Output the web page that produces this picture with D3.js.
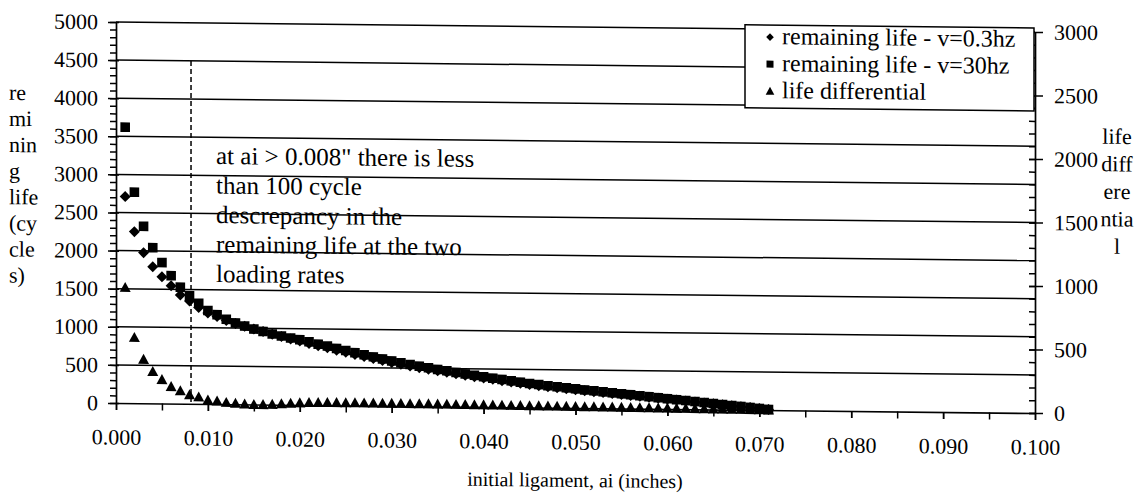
<!DOCTYPE html>
<html>
<head>
<meta charset="utf-8">
<script src="https://cdn.jsdelivr.net/npm/d3@7"></script>
<style>
  body { margin: 0; background: #fff; }
  svg text { font-family: "Liberation Serif", "DejaVu Serif", "Times New Roman", Times, serif; }
</style>
</head>
<body>
<svg id="chart" width="1141" height="499"></svg>
<script>
// initial ligament ai (inches)
const ai = [
  0.001, 0.002, 0.003, 0.004, 0.005, 0.006, 0.007, 0.008, 0.009, 0.010,
  0.011, 0.012, 0.013, 0.014, 0.015, 0.016, 0.017, 0.018, 0.019, 0.020,
  0.021, 0.022, 0.023, 0.024, 0.025, 0.026, 0.027, 0.028, 0.029, 0.030,
  0.031, 0.032, 0.033, 0.034, 0.035, 0.036, 0.037, 0.038, 0.039, 0.040,
  0.041, 0.042, 0.043, 0.044, 0.045, 0.046, 0.047, 0.048, 0.049, 0.050,
  0.051, 0.052, 0.053, 0.054, 0.055, 0.056, 0.057, 0.058, 0.059, 0.060,
  0.061, 0.062, 0.063, 0.064, 0.065, 0.066, 0.067, 0.068, 0.069, 0.070,
  0.071
];
// remaining life - v=0.3hz (cycles)
const lifeSlow = [
  2710, 2251, 1977, 1793, 1662, 1545, 1427, 1348, 1265, 1195,
  1150, 1100, 1060, 1025, 990, 960, 925, 895, 865, 840,
  810, 780, 755, 725, 700, 672, 645, 620, 595, 570,
  548, 527, 507, 487, 468, 450, 432, 414, 397, 380,
  364, 348, 332, 316, 301, 288, 275, 263, 251, 240,
  228, 217, 206, 195, 184, 173, 162, 151, 140, 129,
  118, 107, 96, 85, 74, 63, 52, 41, 30, 19,
  8
];
// remaining life - v=30hz (cycles)
const lifeFast = [
  3621, 2769, 2323, 2044, 1850, 1679, 1529, 1419, 1320, 1226,
  1174, 1114, 1068, 1028, 990, 960, 928, 903, 878, 857,
  830, 801, 777, 747, 722, 694, 667, 642, 616, 591,
  569, 547, 527, 507, 487, 469, 450, 432, 414, 397,
  380, 364, 347, 331, 315, 302, 288, 276, 263, 252,
  239, 228, 216, 205, 193, 182, 170, 159, 147, 136,
  124, 113, 101, 90, 78, 67, 55, 44, 32, 21,
  9
];
// life differential (right axis)
const lifeDiff = [
  911, 518, 346, 251, 188, 134, 102, 71, 55, 31,
  24, 14, 8, 3, 0, 0, 3, 8, 13, 17,
  20, 21, 22, 22, 22, 22, 22, 22, 21, 21,
  21, 20, 20, 20, 19, 19, 18, 18, 17, 17,
  16, 16, 15, 15, 14, 14, 13, 13, 12, 12,
  11, 11, 10, 10, 9, 9, 8, 8, 7, 7,
  6, 6, 5, 5, 4, 4, 3, 3, 2, 2,
  1
];

const xTickValues = [0, 0.01, 0.02, 0.03, 0.04, 0.05, 0.06, 0.07, 0.08, 0.09, 0.1];
const xTickLabels = ["0.000", "0.010", "0.020", "0.030", "0.040", "0.050", "0.060", "0.070", "0.080", "0.090", "0.100"];
const leftTicks = [0, 500, 1000, 1500, 2000, 2500, 3000, 3500, 4000, 4500, 5000];
const rightTicks = [0, 500, 1000, 1500, 2000, 2500, 3000];

const leftTitle = ["re", "mi", "nin", "g", "life", "(cy", "cle", "s)"];
const rightTitle = ["life", "diff", "ere", "ntia", "l"];
const xTitle = "initial ligament, ai (inches)";
const noteLines = [
  "at ai > 0.008\" there is less",
  "than 100 cycle",
  "descrepancy in the",
  "remaining life at the two",
  "loading rates"
];
const legendLabels = ["remaining life - v=0.3hz", "remaining life - v=30hz", "life differential"];
const thresholdAi = 0.008;
const thresholdTop = 4500;

// ---- layout
const L = 116, R = 1035, T = 22, B = 403;
const skew = 0.01087; // the scanned page is slightly sheared
const FONT = '"Liberation Serif", "DejaVu Serif", "Times New Roman", serif';

const x = d3.scaleLinear().domain([0, 0.1]).range([L, R]);
const yL = d3.scaleLinear().domain([0, 5000]).range([B, T]);
const yR = d3.scaleLinear().domain([0, 3000]).range([B, T]);

const svg = d3.select("#chart");
const g = svg.append("g")
  .attr("transform", `translate(0,${-L * skew}) skewY(${Math.atan(skew) * 180 / Math.PI})`);

// horizontal gridlines
g.append("g")
  .selectAll("line")
  .data(leftTicks.filter(d => d > 0))
  .join("line")
  .attr("x1", L).attr("x2", R)
  .attr("y1", d => yL(d)).attr("y2", d => yL(d))
  .attr("stroke", "#000").attr("stroke-width", 1.5);

const styleAxis = sel => {
  sel.attr("font-family", FONT).attr("font-size", 22);
  sel.selectAll("text").attr("fill", "#000");
  sel.selectAll("line").attr("stroke", "#000").attr("stroke-width", 1.5);
  sel.select(".domain").attr("stroke", "#000").attr("stroke-width", 1.7);
};

// left axis
g.append("g")
  .attr("transform", `translate(${L},0)`)
  .call(d3.axisLeft(yL).tickValues(d3.range(0, 5001, 100)).tickSize(6).tickFormat(""))
  .call(styleAxis)
  .call(s => s.select(".domain").remove());
g.append("g")
  .attr("transform", `translate(${L},0)`)
  .call(d3.axisLeft(yL).tickValues(leftTicks).tickFormat(d3.format("d"))
    .tickSize(8).tickSizeOuter(0).tickPadding(10))
  .call(styleAxis)
  .call(s => s.selectAll(".tick line").attr("x2", 3).attr("x1", -8));

// right axis
g.append("g")
  .attr("transform", `translate(${R},0)`)
  .call(d3.axisLeft(yR).tickValues(d3.range(0, 3001, 100)).tickSize(6).tickFormat(""))
  .call(styleAxis)
  .call(s => s.select(".domain").remove());
g.append("g")
  .attr("transform", `translate(${R},0)`)
  .call(d3.axisRight(yR).tickValues(rightTicks).tickFormat(d3.format("d"))
    .tickSize(8).tickSizeOuter(0).tickPadding(11))
  .call(styleAxis)
  .call(s => s.selectAll(".tick line").attr("x1", -6));

// bottom axis
g.append("g")
  .attr("transform", `translate(0,${B})`)
  .call(d3.axisBottom(x).tickValues(d3.range(0, 0.1001, 0.005)).tickSize(7).tickFormat(""))
  .call(styleAxis)
  .call(s => s.select(".domain").remove());
g.append("g")
  .attr("transform", `translate(0,${B})`)
  .call(d3.axisBottom(x).tickValues(xTickValues).tickFormat((d, i) => xTickLabels[i])
    .tickSize(7).tickSizeOuter(0).tickPadding(19))
  .call(styleAxis);

// threshold marker
g.append("line")
  .attr("x1", x(thresholdAi) + 1.5).attr("x2", x(thresholdAi) + 1.5)
  .attr("y1", yL(thresholdTop)).attr("y2", yL(0))
  .attr("stroke", "#000").attr("stroke-width", 1.5)
  .attr("stroke-dasharray", "5,3");

// markers
const diamond = "M0,-5.5L5.5,0L0,5.5L-5.5,0Z";
const square = "M-4.8,-4.8H4.8V4.8H-4.8Z";
const triangle = "M0,-5.5L5.5,4.5L-5.5,4.5Z";

const plotSeries = (vals, yScale, shape) => {
  g.append("g")
    .selectAll("path")
    .data(vals)
    .join("path")
    .attr("d", shape)
    .attr("transform", (d, i) => `translate(${x(ai[i])},${yScale(d)})`)
    .attr("fill", "#000");
};
plotSeries(lifeSlow, yL, diamond);
plotSeries(lifeFast, yL, square);
plotSeries(lifeDiff, yR, triangle);

// annotation
const note = g.append("text").attr("font-family", FONT).attr("font-size", 25).attr("fill", "#000");
noteLines.forEach((t, i) => {
  note.append("tspan").attr("x", 216).attr("y", 163 + i * 29.5).text(t);
});

// axis titles
const lt = g.append("text").attr("font-family", FONT).attr("font-size", 22).attr("fill", "#000");
leftTitle.forEach((t, i) => {
  lt.append("tspan").attr("x", 9).attr("y", 101 + i * 26.1).text(t);
});
const rt = g.append("text").attr("font-family", FONT).attr("font-size", 22)
  .attr("fill", "#000").attr("text-anchor", "middle");
rightTitle.forEach((t, i) => {
  rt.append("tspan").attr("x", 1117).attr("y", 133 + i * 27.5).text(t);
});
g.append("text")
  .attr("x", 575).attr("y", 482)
  .attr("text-anchor", "middle")
  .attr("font-family", FONT)
  .attr("font-size", 20)
  .attr("fill", "#000")
  .text(xTitle);

// legend
const lg = g.append("g");
lg.append("rect")
  .attr("x", 745).attr("y", 18).attr("width", 289).attr("height", 83)
  .attr("fill", "#fff").attr("stroke", "#000").attr("stroke-width", 1.5);
const legendShapes = ["M0,-3.8L3.8,0L0,3.8L-3.8,0Z", "M-3.5,-3.5H3.5V3.5H-3.5Z", "M0,-4.3L4.3,3.7L-4.3,3.7Z"];
legendLabels.forEach((t, i) => {
  const yb = 37 + i * 27;
  lg.append("path").attr("d", legendShapes[i])
    .attr("transform", `translate(770,${yb - 7})`).attr("fill", "#000");
  lg.append("text").attr("x", 782).attr("y", yb)
    .attr("font-family", FONT).attr("font-size", 24).attr("fill", "#000").text(t);
});
</script>
</body>
</html>
